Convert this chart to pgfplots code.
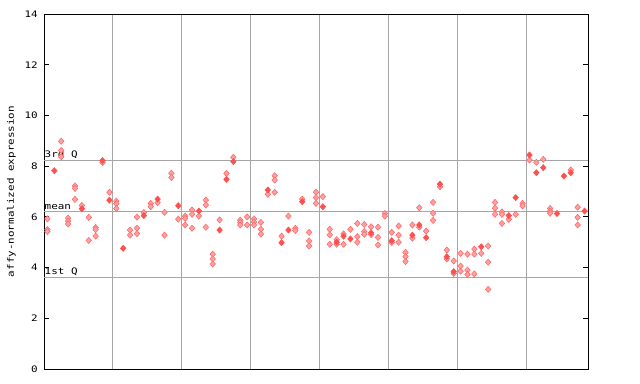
\documentclass[border=0pt]{standalone}
\usepackage{pgfplots}
\pgfplotsset{compat=1.18}
\usepackage{pgfplotstable}
\usepackage{fontspec}
\newfontfamily\monofont[FakeStretch=1.22]{DejaVu Sans Mono}
\definecolor{gridgray}{RGB}{166,166,166}
\definecolor{redmark}{RGB}{255,80,80}
\definecolor{pinkfill}{RGB}{255,160,160}
\definecolor{pinkline}{RGB}{255,100,100}

\pgfplotstableread{
x y
0 5.92
0 5.50
0 5.42
2 8.98
2 8.62
2 8.37
3 5.95
3 5.83
3 5.72
4 7.22
4 7.12
4 6.69
5 6.45
6 5.98
6 5.07
7 5.58
7 5.50
7 5.24
8 8.14
9 6.97
10 6.62
10 6.52
10 6.33
12 5.48
12 5.28
13 5.99
13 5.55
13 5.34
14 6.17
15 6.53
15 6.40
16 6.56
17 6.18
17 5.28
18 7.72
18 7.55
19 5.91
20 6.03
20 5.94
20 5.68
21 6.27
21 6.10
21 5.55
22 6.03
23 6.66
23 6.47
23 5.59
24 4.53
24 4.34
24 4.14
25 5.88
26 7.71
27 8.35
28 5.87
28 5.78
28 5.68
29 6.00
29 5.68
30 5.92
30 5.80
30 5.68
31 5.78
31 5.51
31 5.32
32 6.89
33 7.62
33 7.45
33 6.97
34 5.24
35 6.03
36 5.55
36 5.46
37 6.70
38 5.39
38 5.05
38 4.85
39 6.97
39 6.76
39 6.53
40 6.80
41 5.51
41 5.29
41 4.92
42 5.10
42 4.92
43 5.33
43 4.92
44 5.51
45 5.74
45 5.22
45 5.00
46 5.70
46 5.42
46 5.31
47 5.61
47 5.30
48 5.59
48 5.19
48 4.89
49 6.13
49 6.03
50 5.39
50 4.99
51 5.64
51 5.28
51 5.00
52 4.60
52 4.43
52 4.24
53 5.68
53 5.16
54 6.36
54 5.59
55 5.44
56 6.57
56 6.14
56 5.86
57 7.19
58 4.69
58 4.34
59 4.26
59 3.77
60 4.56
60 4.06
60 3.86
61 4.53
61 3.90
61 3.73
62 4.73
62 4.53
62 3.75
63 4.56
64 4.85
64 4.21
64 3.14
65 6.57
65 6.34
65 6.10
66 6.20
66 6.10
66 5.74
67 5.90
68 6.10
69 6.53
69 6.43
70 8.24
71 8.15
72 8.27
73 6.33
73 6.22
73 6.14
76 7.85
77 6.38
77 5.98
77 5.68
}\hollowdata

\pgfplotstableread{
x y
1 7.82
5 6.32
8 8.22
9 6.66
11 4.76
14 6.05
16 6.70
19 6.44
22 6.23
25 5.48
26 7.48
27 8.18
32 7.06
34 4.98
35 5.48
37 6.60
40 6.40
42 5.00
43 5.24
44 5.13
47 5.37
50 5.06
53 5.28
54 5.68
55 5.18
57 7.29
58 4.43
59 3.84
63 4.82
67 6.05
68 6.76
70 8.44
71 7.74
72 7.94
74 6.13
75 7.61
76 7.74
78 6.23
}\filleddata

\begin{document}
\begin{tikzpicture}
\useasboundingbox (-44bp,-15bp) rectangle (596bp,369bp);
\begin{axis}[
  at={(0,0)}, anchor=south west,
  scale only axis, width=544bp, height=355bp,
  xmin=-0.5, xmax=78.5, ymin=0, ymax=14,
  xtick={9.5,19.5,29.5,39.5,49.5,59.5,69.5},
  xticklabels={},
  xmajorgrids=true,
  major x grid style={gridgray, line width=0.9bp},
  x tick style={draw=none},
  ytick={0,2,4,6,8,10,12,14},
  tick align=inside,
  ytick pos=both,
  major tick length=5bp,
  y tick style={black, line width=0.8bp},
  axis line style={black, line width=0.9bp},
  font=\monofont\fontsize{9}{10}\selectfont,
  /pgf/number format/assume math mode=true,
  yticklabel style={anchor=east, inner sep=0pt, xshift=-6bp, font=\monofont\fontsize{9}{10}\selectfont},
  ylabel={affy-normalized expression},
  every axis y label/.style={at={(axis description cs:-0.0598,0.5)}, rotate=90, anchor=center, font=\monofont\fontsize{9}{10}\selectfont},
  clip=false,
]
\draw[gridgray, line width=0.9bp] (axis cs:-0.5,8.24) -- (axis cs:78.5,8.24);
\draw[gridgray, line width=0.9bp] (axis cs:-0.5,6.22) -- (axis cs:78.5,6.22);
\draw[gridgray, line width=0.9bp] (axis cs:-0.5,3.61) -- (axis cs:78.5,3.61);
\node[anchor=south west, inner sep=0pt, yshift=1.2bp, xshift=0.5bp] at (axis cs:-0.5,8.24) {3rd Q};
\node[anchor=south west, inner sep=0pt, yshift=1.2bp, xshift=0.5bp] at (axis cs:-0.5,6.22) {mean};
\node[anchor=south west, inner sep=0pt, yshift=1.2bp, xshift=0.5bp] at (axis cs:-0.5,3.61) {1st Q};
\addplot[only marks, mark=diamond*, mark size=3.1bp, mark options={xscale=1.2, fill=pinkfill, draw=pinkline, line width=0.5bp}] table[x=x,y=y] {\hollowdata};
\addplot[only marks, mark=diamond*, mark size=3.1bp, mark options={xscale=1.2, fill=redmark, draw=redmark, line width=0.5bp}] table[x=x,y=y] {\filleddata};
\end{axis}
\end{tikzpicture}
\end{document}
